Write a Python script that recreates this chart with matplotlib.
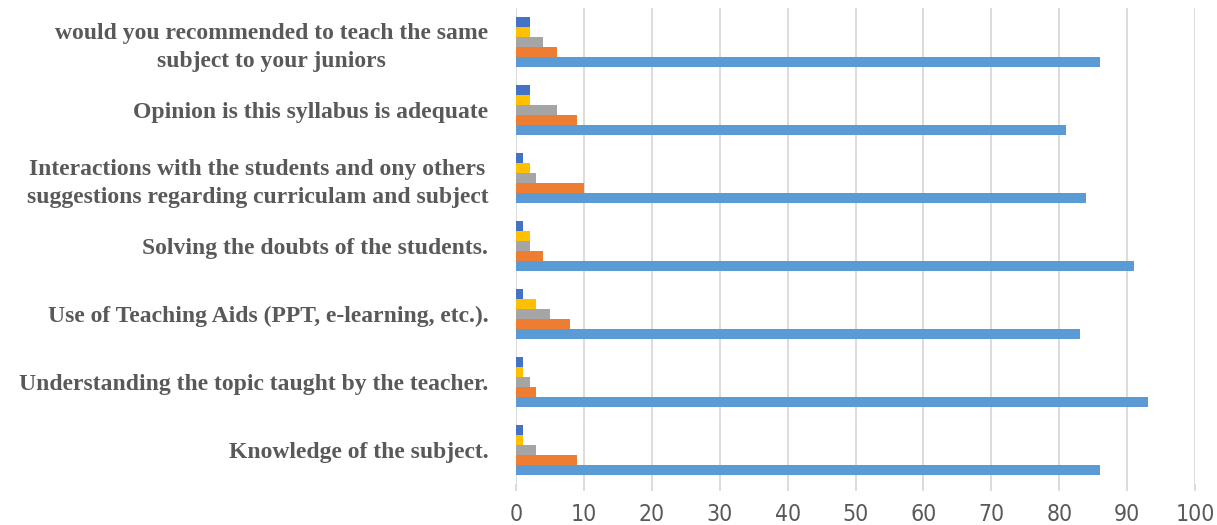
import numpy as np
import matplotlib.pyplot as plt

plt.rcParams['font.family'] = ['Liberation Serif', 'DejaVu Serif']

categories = [
    "Knowledge of the subject.",
    "Understanding the topic taught by the teacher.",
    "Use of Teaching Aids (PPT, e-learning, etc.).",
    "Solving the doubts of the students.",
    "Interactions with the students and ony others\nsuggestions regarding curriculam and subject",
    "Opinion is this syllabus is adequate",
    "would you recommended to teach the same\nsubject to your juniors",
]

# series, drawn bottom to top inside each group
series_names = ["Series 1", "Series 2", "Series 3", "Series 4", "Series 5"]
s1 = [86, 93, 83, 91, 84, 81, 86]
s2 = [9, 3, 8, 4, 10, 9, 6]
s3 = [3, 2, 5, 2, 3, 6, 4]
s4 = [1, 1, 3, 2, 2, 2, 2]
s5 = [1, 1, 1, 1, 1, 2, 2]
colors = ['#5B9BD5', '#ED7D31', '#A5A5A5', '#FFC000', '#4472C4']

fig = plt.figure(figsize=(12.17, 5.25), dpi=100)
ax = fig.add_axes([0.424, 0.078, 0.558, 0.907])

y = np.arange(len(categories))
h = 0.145
for i, vals in enumerate([s1, s2, s3, s4, s5]):
    ax.barh(y + (i - 2) * h, vals, height=h, color=colors[i], label=series_names[i], zorder=3)

ax.set_xlim(0, 100)
ax.set_ylim(-0.5, len(categories) - 0.5)
ax.set_xticks(np.arange(0, 101, 10))
ax.set_yticks(y)
ax.set_yticklabels(categories, fontsize=17, fontweight='bold', color='#595959',
                   multialignment='center', linespacing=1.4)
ax.tick_params(axis='x', labelsize=16.5, labelcolor='#595959', length=5,
               color='#D9D9D9', width=1.3, pad=9)
ax.tick_params(axis='y', length=0, pad=20)
for lbl in ax.get_xticklabels():
    lbl.set_family(['DejaVu Sans'])
    lbl.set_fontstretch('condensed')

ax.grid(axis='x', color='#D9D9D9', linewidth=1.3, zorder=0)
for sp in ax.spines.values():
    sp.set_visible(False)

fig.savefig('out.png', dpi=100)
